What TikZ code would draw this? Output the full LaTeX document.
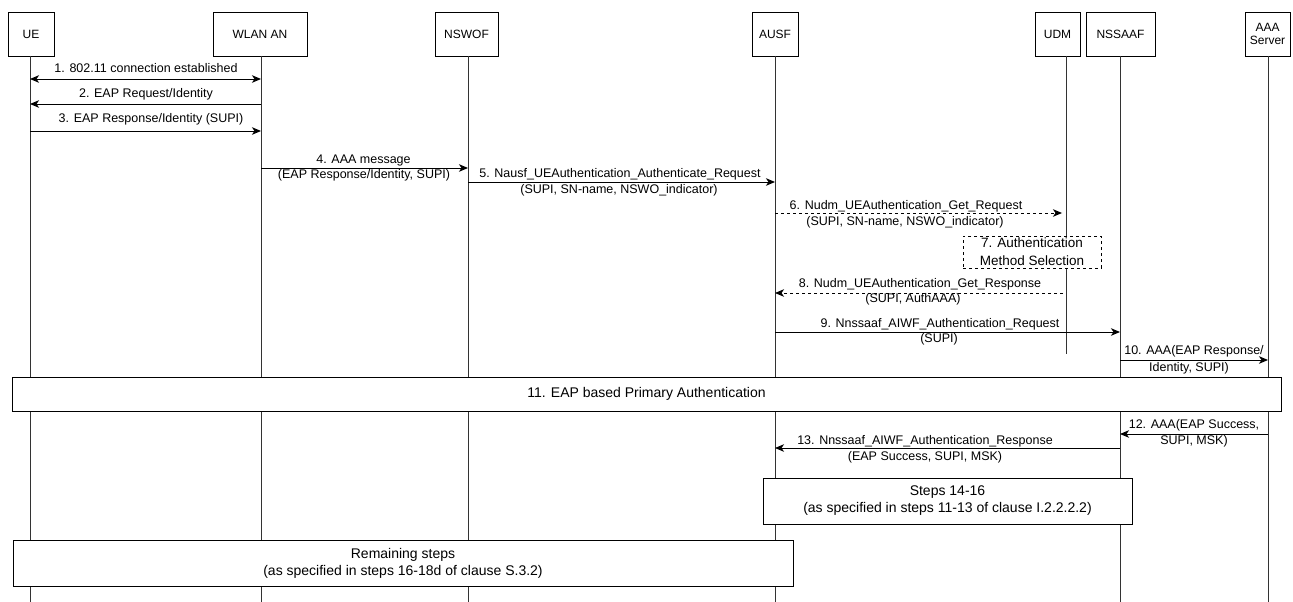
\documentclass[tikz,border=0pt]{standalone}
\usepackage{fontspec}
\setmainfont{Liberation Sans}
\usetikzlibrary{arrows.meta}
\begin{document}
\begin{tikzpicture}[x=1pt,y=-1pt,
  hdr/.style={draw, fill=white, line width=0.8pt, minimum height=44pt, inner sep=0pt, align=center, font=\fontsize{12}{13.5}\selectfont},
  life/.style={draw=black!80, line width=0.8pt},
  tip/.tip={Stealth[length=9pt,width=7.5pt,inset=2.5pt]},
  msg/.style={draw, line width=0.9pt, -tip},
  dmsg/.style={msg, dash pattern=on 3pt off 3pt},
  lbl/.style={inner sep=0pt, font=\fontsize{12.5}{14}\selectfont},
  stepbox/.style={draw, fill=white, line width=0.9pt, inner sep=0pt, align=center, font=\fontsize{14}{17}\selectfont}
]
\useasboundingbox (0,0) rectangle (1293,602);
% headers
\node[hdr, minimum width=46pt] (ue) at (31,34) {UE};
\node[hdr, minimum width=94pt] (wlan) at (260,34) {WLAN AN};
\node[hdr, minimum width=63pt] (nswof) at (466.5,34) {NSWOF};
\node[hdr, minimum width=46pt] (ausf) at (775,34) {AUSF};
\node[hdr, minimum width=45pt] (udm) at (1057.5,34) {UDM};
\node[hdr, minimum width=69pt] (nssaaf) at (1120.5,34) {NSSAAF};
\node[hdr, minimum width=45pt] (aaa) at (1267.5,34) {AAA\\Server};
% lifeline ends
\coordinate (ueT) at (30,56);      \coordinate (ueB) at (30,602);
\coordinate (wlanT) at (261,56);   \coordinate (wlanB) at (261,602);
\coordinate (nswofT) at (468,56);  \coordinate (nswofB) at (468,602);
\coordinate (ausfT) at (775,56);   \coordinate (ausfB) at (775,602);
\coordinate (udmT) at (1066,56);   \coordinate (udmB) at (1066,354);
\coordinate (nssaafT) at (1120,56);\coordinate (nssaafB) at (1120,602);
\coordinate (aaaT) at (1268,56);   \coordinate (aaaB) at (1268,602);
\foreach \n in {ue,wlan,nswof,ausf,udm,nssaaf,aaa} \draw[life] (\n T) -- (\n B);
% 1
\draw[msg, tip-tip] (ueT |- 0,79) -- (wlanT |- 0,79);
\node[lbl] (l1) at (146,68) {1. 802.11 connection established};
% 2
\draw[msg] (wlanT |- 0,104) -- (ueT |- 0,104);
\node[lbl] (l2) at (146,94) {2. EAP Request/Identity};
% 3
\draw[msg] (ueT |- 0,131) -- (wlanT |- 0,131);
\node[lbl] (l3) at (151,119) {3. EAP Response/Identity (SUPI)};
% 4
\draw[msg] (wlanT |- 0,168) -- (nswofT |- 0,168);
\node[lbl] (l4a) at (363.5,160.5) {4. AAA message};
\node[lbl] (l4b) at (364,175.5) {(EAP Response/Identity, SUPI)};
% 5
\draw[msg] (nswofT |- 0,182) -- (ausfT |- 0,182);
\node[lbl] (l5a) at (620,174) {5. Nausf\_UEAuthentication\_Authenticate\_Request};
\node[lbl] (l5b) at (619,190) {(SUPI, SN-name, NSWO\_indicator)};
% 6
\draw[dmsg, shorten >=4pt] (ausfT |- 0,213) -- (udmT |- 0,213);
\node[lbl] (l6a) at (906,206) {6. Nudm\_UEAuthentication\_Get\_Request};
\node[lbl] (l6b) at (905,222.5) {(SUPI, SN-name, NSWO\_indicator)};
% 7
\node[stepbox, dashed, line width=0.8pt, minimum width=138pt, minimum height=32pt, font=\fontsize{13.5}{18}\selectfont] (s7) at (1032,252) {7. Authentication\\Method Selection};
% 8
\draw[dmsg, shorten <=3pt] (udmT |- 0,293) -- (ausfT |- 0,293);
\node[lbl] (l8a) at (920,284) {8. Nudm\_UEAuthentication\_Get\_Response};
\node[lbl] (l8b) at (913,299.5) {(SUPI, AuthAAA)};
% 9
\draw[msg] (ausfT |- 0,332) -- (nssaafT |- 0,332);
\node[lbl] (l9a) at (940,324) {9. Nnssaaf\_AIWF\_Authentication\_Request};
\node[lbl] (l9b) at (939,339.5) {(SUPI)};
% 10
\draw[msg] (nssaafT |- 0,360) -- (aaaT |- 0,360);
\node[lbl] (l10a) at (1194,351.5) {10. AAA(EAP Response/};
\node[lbl] (l10b) at (1189,368) {Identity, SUPI)};
% 11
\node[stepbox, minimum width=1269pt, minimum height=34pt] (s11) at (646.5,394) {11. EAP based Primary Authentication};
% 12
\draw[msg] (aaaT |- 0,434) -- (nssaafT |- 0,434);
\node[lbl] (l12a) at (1194,425.5) {12. AAA(EAP Success,};
\node[lbl] (l12b) at (1194,441) {SUPI, MSK)};
% 13
\draw[msg] (nssaafT |- 0,448) -- (ausfT |- 0,448);
\node[lbl] (l13a) at (925,441) {13. Nnssaaf\_AIWF\_Authentication\_Response};
\node[lbl] (l13b) at (925,457) {(EAP Success, SUPI, MSK)};
% steps 14-16
\node[stepbox, minimum width=369pt, minimum height=46pt] (s14) at (947.5,501) {Steps 14-16\\(as specified in steps 11-13 of clause I.2.2.2.2)};
% remaining
\node[stepbox, minimum width=780pt, minimum height=46pt] (srem) at (403,563) {Remaining steps\\(as specified in steps 16-18d of clause S.3.2)};
\end{tikzpicture}
\end{document}
